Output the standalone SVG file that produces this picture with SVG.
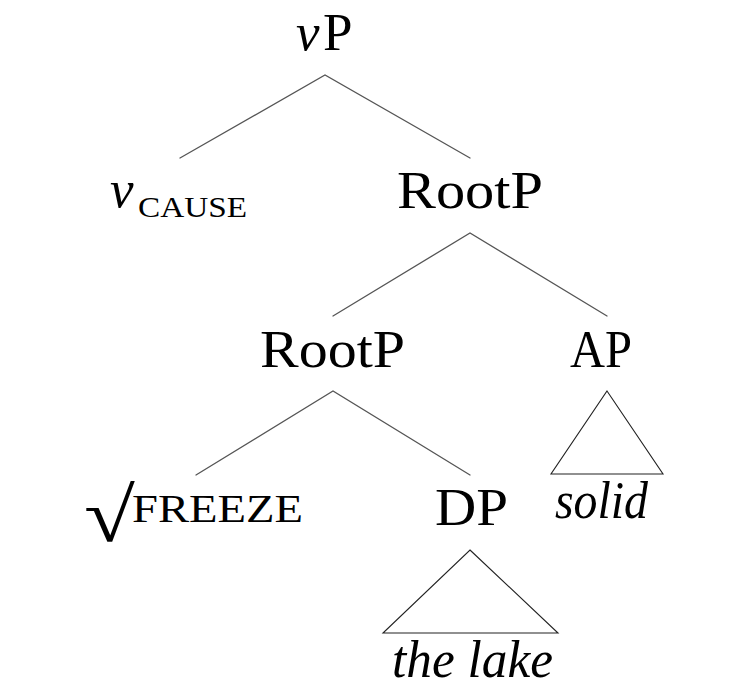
<svg xmlns="http://www.w3.org/2000/svg" width="745" height="690" viewBox="0 0 745 690">
  <style>
    .lbl { font-family: "Liberation Serif", "Times New Roman", serif; font-size: 53px; fill: #000; }
    .it { font-style: italic; }
    .sc { font-size: 30px; }
    .sc2 { font-size: 41px; }
    .rad { font-family: "Liberation Serif", "Times New Roman", serif; font-size: 76px; fill: #000; }
    .edge { stroke: #555; stroke-width: 1.3; fill: none; stroke-linecap: round; }
    .tri { stroke: #222; stroke-width: 1.1; fill: none; stroke-linejoin: miter; }
  </style>
  <rect width="745" height="690" fill="#fff"/>

  <!-- branches -->
  <g id="connectors">
    <polyline class="edge" points="180,158 325,75 470,158"/>
    <polyline class="edge" points="333,316 470,233 607,316"/>
    <polyline class="edge" points="196,475 333,391 470,475"/>
    <polygon class="tri" points="607,391 663,474 551,474"/>
    <polygon class="tri" points="470,550 558,633 383,633"/>
  </g>

  <g id="vP">
    <text class="lbl" y="50"><tspan class="it" x="296">v</tspan><tspan x="323">P</tspan></text>
  </g>
  <g id="vCAUSE">
    <text class="lbl it" x="110" y="207">v</text>
    <text class="lbl sc" x="138" y="217" textLength="109" lengthAdjust="spacingAndGlyphs">CAUSE</text>
  </g>
  <g id="RootP1">
    <text class="lbl" x="397" y="208" textLength="146" lengthAdjust="spacingAndGlyphs">RootP</text>
  </g>
  <g id="RootP2">
    <text class="lbl" x="260" y="367" textLength="145" lengthAdjust="spacingAndGlyphs">RootP</text>
  </g>
  <g id="AP">
    <text class="lbl" x="570" y="367" textLength="62" lengthAdjust="spacingAndGlyphs">AP</text>
  </g>
  <g id="FREEZE">
    <text class="rad" transform="translate(84,541) scale(1.22,1)">√</text>
    <text class="lbl sc2" x="132" y="522" textLength="171" lengthAdjust="spacingAndGlyphs">FREEZE</text>
  </g>
  <g id="DP">
    <text class="lbl" x="435" y="525" textLength="73" lengthAdjust="spacingAndGlyphs">DP</text>
  </g>
  <g id="solid">
    <text class="lbl it" x="555" y="518" textLength="93" lengthAdjust="spacingAndGlyphs">solid</text>
  </g>
  <g id="thelake">
    <text class="lbl it" x="392" y="677" textLength="161" lengthAdjust="spacingAndGlyphs">the lake</text>
  </g>
</svg>
